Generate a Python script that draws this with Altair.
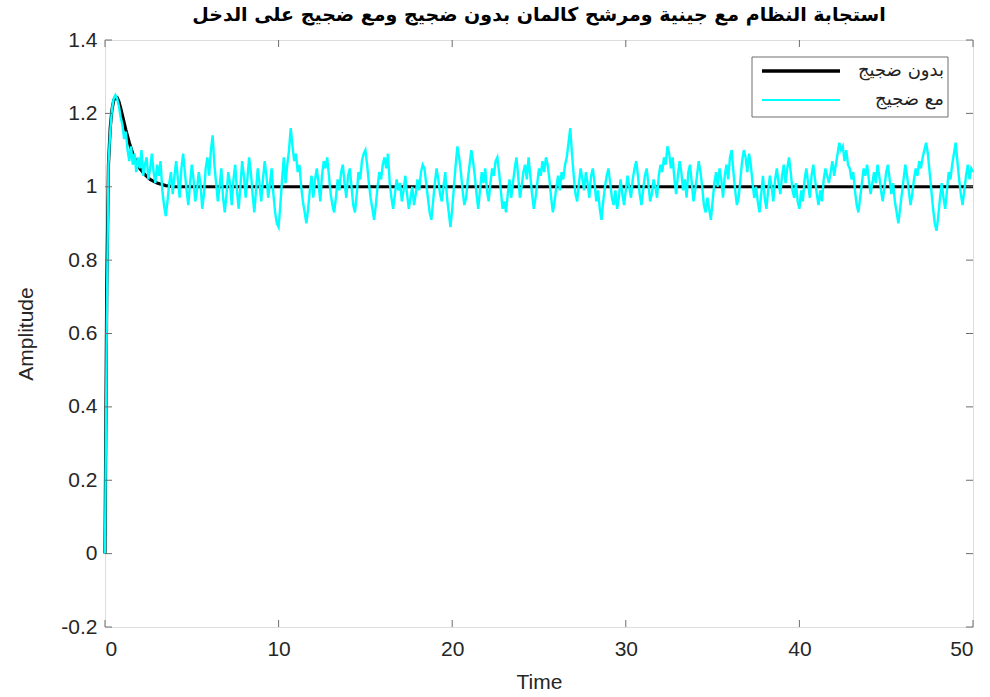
import altair as alt
import pandas as pd

# Step response of the plant with the Kalman filter, sampled every 0.1 s
T_STEP = 0.1

clean_t = [0.0, 0.1, 0.2, 0.3, 0.4, 0.5, 0.6, 0.7, 0.8, 0.9, 1.0, 1.2, 1.4,
           1.6, 1.8, 2.0, 2.3, 2.6, 3.0, 3.5, 4.0, 50.0]
clean_v = [0.0, 0.72, 1.06, 1.16, 1.21, 1.235, 1.245, 1.243, 1.232, 1.215, 1.195,
           1.155, 1.12, 1.09, 1.068, 1.05, 1.033, 1.02, 1.01, 1.003, 1.0, 1.0]

noisy_v = [
    0.00, 0.62, 1.06, 1.15, 1.21, 1.24, 1.25, 1.24, 1.22, 1.19,
    1.17, 1.13, 1.15, 1.10, 1.07, 1.11, 1.06, 1.09, 1.04, 1.08,
    1.05, 1.10, 1.03, 1.06, 1.08, 1.02, 1.05, 1.09, 1.04, 1.01,
    1.06, 1.03, 1.07, 0.99, 0.95, 0.92, 0.96, 1.01, 1.04, 0.98,
    1.03, 1.07, 1.02, 0.97, 1.05, 1.09, 1.04, 0.99, 0.95, 1.01,
    1.06, 1.02, 0.96, 0.99, 1.04, 1.01, 0.94, 0.98, 1.05, 1.08,
    1.03, 1.10, 1.14, 1.06, 1.01, 0.96, 1.00, 1.05, 0.97, 0.93,
    0.98, 1.04, 1.01, 0.95, 1.02, 1.06, 0.99, 0.94, 1.00, 1.07,
    1.03, 0.97, 1.02, 1.08, 1.04, 0.98, 0.93, 0.99, 1.05, 1.01,
    0.96, 1.02, 1.07, 1.03, 0.97, 1.01, 1.05, 0.98, 0.93, 0.90,
    0.89, 0.95, 1.02, 1.08, 1.01, 1.06, 1.10, 1.16, 1.11, 1.07,
    1.09, 1.04, 1.06, 1.00, 0.96, 0.93, 0.90, 0.94, 0.99, 1.03,
    0.97, 1.02, 1.05, 1.01, 0.96, 1.03, 1.07, 1.05, 1.08, 1.03,
    0.98, 0.95, 0.93, 0.97, 1.02, 0.99, 1.04, 1.06, 1.01, 0.97,
    1.03, 1.05, 1.00, 0.95, 0.93, 0.98, 1.04, 1.02, 1.07, 1.09,
    1.10, 1.06, 1.01, 0.97, 0.94, 0.91, 0.95, 1.00, 1.04, 1.02,
    1.06, 1.08, 1.05, 1.09, 1.01, 0.97, 0.94, 0.98, 1.02, 0.99,
    1.01, 0.96, 0.99, 1.03, 0.98, 0.94, 0.97, 1.00, 0.95, 0.98,
    1.02, 0.99, 1.04, 1.06, 1.05, 1.01, 0.97, 0.93, 0.91, 0.96,
    1.01, 1.05, 1.02, 0.98, 0.96, 1.00, 1.04, 0.97, 0.93, 0.89,
    0.94, 1.00, 1.06, 1.11, 1.08, 1.04, 0.99, 0.95, 0.97, 1.02,
    1.06, 1.10, 1.07, 1.03, 0.98, 0.94, 0.99, 1.04, 1.01, 1.05,
    0.99, 0.96, 1.01, 1.05, 1.03, 1.07, 1.08, 1.04, 0.99, 0.94,
    0.96, 0.93, 0.98, 1.02, 0.97, 1.01, 1.05, 1.08, 1.03, 0.97,
    1.00, 1.04, 1.06, 1.02, 1.08, 1.03, 0.98, 0.94, 0.97, 1.01,
    1.05, 1.03, 1.07, 1.04, 1.08, 1.06, 1.02, 0.97, 0.93, 0.96,
    1.00, 1.03, 0.99, 1.04, 1.02, 1.06, 1.08, 1.12, 1.16, 1.09,
    1.03, 0.98, 0.96, 1.01, 1.05, 1.02, 0.99, 1.04, 1.01, 0.97,
    1.03, 1.05, 1.01, 0.96, 0.99, 0.94, 0.91, 0.96, 1.00, 1.03,
    1.05, 1.01, 0.97, 0.95, 0.99, 0.94, 0.97, 1.02, 0.98, 0.95,
    0.99, 1.03, 1.00, 0.97, 1.02, 1.05, 1.07, 1.03, 0.98, 0.95,
    0.99, 1.03, 1.05, 1.01, 0.96, 0.98, 1.02, 1.00, 0.97, 1.03,
    1.06, 1.04, 1.08, 1.06, 1.11, 1.09, 1.05, 1.08, 1.02, 0.98,
    1.03, 1.07, 1.04, 0.99, 1.02, 0.97, 1.04, 1.06, 1.01, 0.96,
    0.99, 1.03, 1.07, 1.04, 1.00, 0.95, 0.93, 0.97, 0.94, 0.91,
    0.96, 1.01, 1.04, 1.00, 1.05, 1.02, 0.97, 1.03, 1.06, 1.02,
    1.08, 1.10, 1.04, 0.99, 0.95, 0.97, 1.02, 1.07, 1.10, 1.08,
    1.04, 1.09, 1.06, 1.01, 0.97, 1.00, 0.96, 0.93, 0.98, 1.03,
    0.97, 0.94, 0.99, 1.03, 1.00, 0.96, 1.02, 1.05, 1.01, 0.98,
    1.03, 1.06, 1.01, 1.05, 1.08, 1.04, 0.99, 0.97, 1.01, 0.96,
    0.94, 0.99, 0.96, 1.02, 1.05, 1.01, 0.97, 1.03, 1.06, 1.02,
    0.98, 0.95, 0.99, 0.96, 1.02, 1.05, 1.03, 1.01, 1.04, 1.07,
    1.03, 1.06, 1.09, 1.12, 1.10, 1.11, 1.07, 1.10, 1.06, 1.05,
    1.02, 1.04, 0.99, 0.95, 0.93, 0.97, 1.01, 1.05, 1.03, 1.06,
    1.02, 0.98, 1.01, 1.04, 1.01, 1.06, 1.03, 0.99, 0.96, 1.00,
    1.04, 1.06, 1.02, 0.98, 1.01, 0.96, 0.93, 0.90, 0.94, 0.98,
    1.02, 1.06, 1.03, 0.99, 0.95, 0.98, 1.02, 1.05, 1.03, 1.07,
    1.05, 1.08, 1.10, 1.12, 1.09, 1.04, 0.99, 0.94, 0.90, 0.88,
    0.92, 0.97, 1.01, 0.97, 0.94, 0.99, 1.04, 1.02, 1.06, 1.09,
    1.12, 1.07, 1.02, 0.98, 0.95, 0.99, 1.03, 1.06, 1.02, 1.05,
    1.04,
]
noisy_t = [round(i * T_STEP, 1) for i in range(len(noisy_v))]

series_names = ["بدون ضجيج", "مع ضجيج"]
series_colors = ["#000000", "#00FFFF"]
title_text = "استجابة النظام مع جينية ومرشح كالمان بدون ضجيج ومع ضجيج على الدخل"

x_ticks = [0, 10, 20, 30, 40, 50]
y_ticks = [-0.2, 0, 0.2, 0.4, 0.6, 0.8, 1, 1.2, 1.4]

W, H = 868, 587
FRAME = "#6e6e6e"
LABEL = "#262626"
NUM_FONT = "Liberation Sans"
AR_FONT = "DejaVu Sans"

clean_df = pd.DataFrame({"t": clean_t, "v": clean_v})
noisy_df = pd.DataFrame({"t": noisy_t, "v": noisy_v})

x_enc = alt.X(
    "t:Q",
    scale=alt.Scale(domain=[0, 50], nice=False, zero=False),
    axis=alt.Axis(values=x_ticks, title="Time", ticks=False, domain=False,
                  grid=False, labelFontSize=21, labelColor=LABEL,
                  labelFont=NUM_FONT, labelPadding=11, titleFont=NUM_FONT,
                  titleFontSize=21, titleFontWeight="normal", titleColor=LABEL,
                  titlePadding=12),
)
y_enc = alt.Y(
    "v:Q",
    scale=alt.Scale(domain=[-0.2, 1.4], nice=False, zero=False),
    axis=alt.Axis(values=y_ticks, title="Amplitude", ticks=False, domain=False,
                  grid=False, labelFontSize=21, labelColor=LABEL,
                  labelFont=NUM_FONT, labelPadding=8,
                  labelExpr="'' + datum.value", titleFont=NUM_FONT,
                  titleFontSize=21, titleFontWeight="normal", titleColor=LABEL,
                  titlePadding=24),
)

clean_line = alt.Chart(clean_df).mark_line(
    color=series_colors[0], strokeWidth=3.2
).encode(x=x_enc, y=y_enc)

noisy_line = alt.Chart(noisy_df).mark_line(
    color=series_colors[1], strokeWidth=2.4
).encode(x="t:Q", y="v:Q")

# inward tick marks on all four sides of the box
xt = pd.DataFrame({"t": x_ticks})
yt = pd.DataFrame({"v": y_ticks})
tick_style = dict(color=FRAME, strokeWidth=1)
ticks_bottom = alt.Chart(xt).mark_rule(**tick_style).encode(
    x="t:Q", y=alt.value(H), y2=alt.value(H - 7))
ticks_top = alt.Chart(xt).mark_rule(**tick_style).encode(
    x="t:Q", y=alt.value(0), y2=alt.value(7))
ticks_left = alt.Chart(yt).mark_rule(**tick_style).encode(
    y="v:Q", x=alt.value(0), x2=alt.value(7))
ticks_right = alt.Chart(yt).mark_rule(**tick_style).encode(
    y="v:Q", x=alt.value(W), x2=alt.value(W - 7))

# legend box in the upper right corner
one = pd.DataFrame({"k": [0]})
leg_box = alt.Chart(one).mark_rect(
    fill="white", stroke=FRAME, strokeWidth=1
).encode(x=alt.value(647), x2=alt.value(843), y=alt.value(17), y2=alt.value(77))

leg_layers = [leg_box]
for i, (name, col) in enumerate(zip(series_names, series_colors)):
    yy = 31 + i * 29
    leg_layers.append(
        alt.Chart(one).mark_rule(color=col, strokeWidth=3.5 if i == 0 else 2).encode(
            x=alt.value(657), x2=alt.value(735), y=alt.value(yy))
    )
    leg_layers.append(
        alt.Chart(one).mark_text(
            text=name, font=AR_FONT, fontSize=18, color="#222222",
            align="right", baseline="middle"
        ).encode(x=alt.value(839), y=alt.value(yy))
    )

chart = alt.layer(
    clean_line, noisy_line,
    ticks_bottom, ticks_top, ticks_left, ticks_right,
    *leg_layers,
).properties(
    width=W,
    height=H,
    title=alt.TitleParams(title_text, font=AR_FONT, fontSize=19,
                          fontWeight="bold", color="#000000", offset=4,
                          anchor="middle"),
    autosize=alt.AutoSizeParams(type="none"),
    padding={"left": 105, "top": 40, "right": 17, "bottom": 70},
).configure_view(
    stroke=FRAME, strokeWidth=1.2
).configure(background="white")

chart.save("out.html", embed_options={"renderer": "svg", "actions": False})
